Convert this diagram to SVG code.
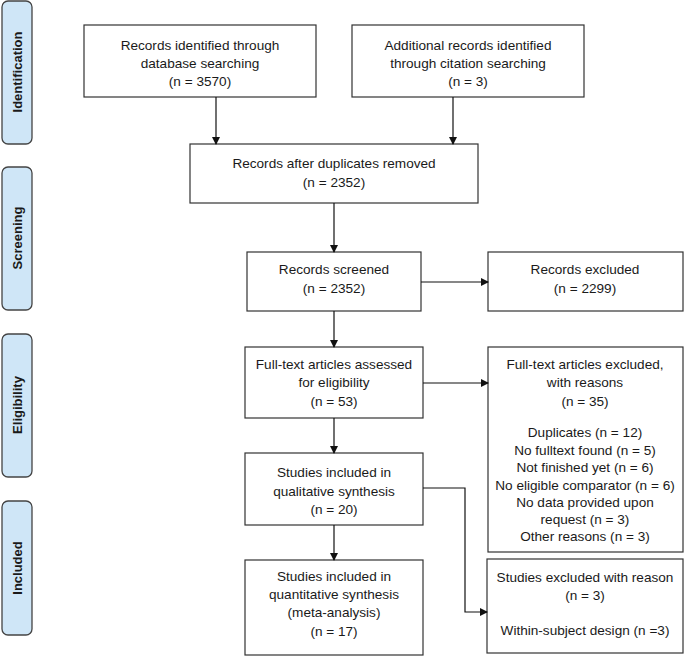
<svg xmlns="http://www.w3.org/2000/svg" width="685" height="657" viewBox="0 0 685 657">
<defs>
<marker id="ah" markerWidth="8" markerHeight="8" refX="7" refY="4" orient="auto" markerUnits="userSpaceOnUse">
<path d="M0,0 L8,4 L0,8 Z" fill="#111"/>
</marker>
<style>
.box{fill:#fff;stroke:#333;stroke-width:1.2}
.side{fill:#cfe6f7;stroke:#444;stroke-width:1.3}
.t{font-family:"Liberation Sans",Arial,sans-serif;font-size:13.6px;fill:#1a1a1a;text-anchor:middle}
.s{font-family:"Liberation Sans",Arial,sans-serif;font-size:13px;font-weight:bold;fill:#1a1a1a;text-anchor:middle}
.c{fill:none;stroke:#111;stroke-width:1.2}
</style>
</defs>
<g id="side-identification"><rect class="side" x="2" y="1" width="30" height="143" rx="6"/><text class="s" transform="translate(22,72) rotate(-90)">Identification</text></g>
<g id="side-screening"><rect class="side" x="2" y="167" width="30" height="143" rx="6"/><text class="s" transform="translate(22,238) rotate(-90)">Screening</text></g>
<g id="side-eligibility"><rect class="side" x="2" y="334" width="30" height="143" rx="6"/><text class="s" transform="translate(22,405) rotate(-90)">Eligibility</text></g>
<g id="side-included"><rect class="side" x="2" y="501" width="30" height="134" rx="6"/><text class="s" transform="translate(22,568) rotate(-90)">Included</text></g>

<g id="db"><rect class="box" x="84" y="25" width="232" height="72"/>
<text class="t" x="200" y="50">Records identified through</text>
<text class="t" x="200" y="68">database searching</text>
<text class="t" x="200" y="86">(n = 3570)</text></g>
<g id="cit"><rect class="box" x="352" y="25" width="232" height="72"/>
<text class="t" x="468" y="50">Additional records identified</text>
<text class="t" x="468" y="68">through citation searching</text>
<text class="t" x="468" y="86">(n = 3)</text></g>
<g id="dup"><rect class="box" x="190" y="144" width="288" height="59"/>
<text class="t" x="334" y="168">Records after duplicates removed</text>
<text class="t" x="334" y="187">(n = 2352)</text></g>
<g id="screened"><rect class="box" x="247" y="252" width="174" height="59"/>
<text class="t" x="334" y="274">Records screened</text>
<text class="t" x="334" y="293">(n = 2352)</text></g>
<g id="excluded"><rect class="box" x="488" y="252" width="195" height="59"/>
<text class="t" x="585" y="274">Records excluded</text>
<text class="t" x="585" y="293">(n = 2299)</text></g>
<g id="fulltext"><rect class="box" x="245" y="347" width="178" height="71"/>
<text class="t" x="334" y="369">Full-text articles assessed</text>
<text class="t" x="334" y="387">for eligibility</text>
<text class="t" x="334" y="406">(n = 53)</text></g>
<g id="ftexcl"><rect class="box" x="488" y="347" width="195" height="205"/>
<text class="t" x="585" y="369">Full-text articles excluded,</text>
<text class="t" x="585" y="387">with reasons</text>
<text class="t" x="585" y="406">(n = 35)</text>
<text class="t" x="585" y="437">Duplicates (n = 12)</text>
<text class="t" x="585" y="455">No fulltext found (n = 5)</text>
<text class="t" x="585" y="472">Not finished yet (n = 6)</text>
<text class="t" x="585" y="490">No eligible comparator (n = 6)</text>
<text class="t" x="585" y="507">No data provided upon</text>
<text class="t" x="585" y="524">request (n = 3)</text>
<text class="t" x="585" y="541">Other reasons (n = 3)</text></g>
<g id="qual"><rect class="box" x="245" y="453" width="178" height="72"/>
<text class="t" x="334" y="477">Studies included in</text>
<text class="t" x="334" y="496">qualitative synthesis</text>
<text class="t" x="334" y="514">(n = 20)</text></g>
<g id="quant"><rect class="box" x="245" y="560" width="178" height="95"/>
<text class="t" x="334" y="581">Studies included in</text>
<text class="t" x="334" y="599">quantitative synthesis</text>
<text class="t" x="334" y="617">(meta-analysis)</text>
<text class="t" x="334" y="636">(n = 17)</text></g>
<g id="studexcl"><rect class="box" x="487" y="559" width="196" height="94"/>
<text class="t" x="585" y="582">Studies excluded with reason</text>
<text class="t" x="585" y="600">(n = 3)</text>
<text class="t" x="585" y="635">Within-subject design (n =3)</text></g>

<g id="connectors">
<path class="c" d="M216,97 V144" marker-end="url(#ah)"/>
<path class="c" d="M453,97 V144" marker-end="url(#ah)"/>
<path class="c" d="M334,203 V252" marker-end="url(#ah)"/>
<path class="c" d="M421,282 H488" marker-end="url(#ah)"/>
<path class="c" d="M334,311 V347" marker-end="url(#ah)"/>
<path class="c" d="M423,383 H488" marker-end="url(#ah)"/>
<path class="c" d="M334,418 V453" marker-end="url(#ah)"/>
<path class="c" d="M334,525 V560" marker-end="url(#ah)"/>
<path class="c" d="M423,488 H465 V612 H487" marker-end="url(#ah)"/>
</g>
</svg>
